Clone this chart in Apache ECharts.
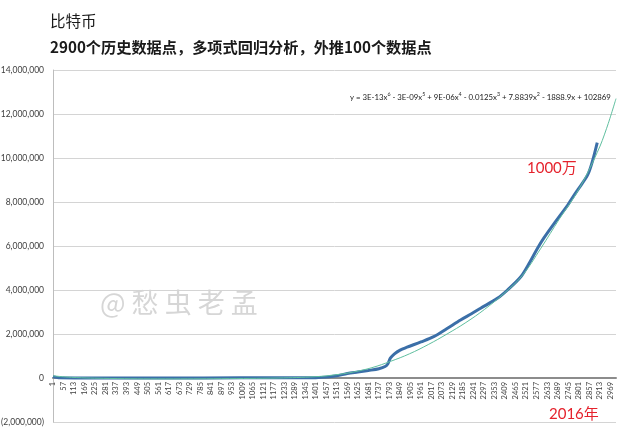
<!DOCTYPE html>
<html><head><meta charset="utf-8">
<script src="https://cdn.jsdelivr.net/npm/echarts@6/dist/echarts.min.js"></script>
<style>html,body{margin:0;padding:0;background:#fff}#c{width:640px;height:436px}</style>
</head><body><div id="c"></div>
<script>
// ---- data ----
const titleMain = '比特币';
const titleSub = '2900个历史数据点，多项式回归分析，外推100个数据点';
const categoryCount = 3000;            // 2900 history + 100 extrapolated
const yTicks = [-2000000, 0, 2000000, 4000000, 6000000, 8000000, 10000000, 12000000, 14000000];

// historical series (sampled points: category index, value)
const priceIdx = [1, 30, 200, 600, 1000, 1300, 1400, 1457, 1513, 1569, 1625, 1681, 1737, 1770, 1785, 1798, 1820, 1850, 1887, 1961, 2029, 2100, 2172, 2230, 2279, 2368, 2422, 2493, 2540, 2582, 2617, 2671, 2743, 2760, 2796, 2849, 2876, 2900];
const priceVal = [60000, 10000, 5000, 5000, 6000, 9000, 15000, 40000, 100000, 200000, 270000, 340000, 420000, 520000, 650000, 900000, 1100000, 1270000, 1400000, 1640000, 1880000, 2250000, 2640000, 2920000, 3170000, 3620000, 4000000, 4600000, 5250000, 5900000, 6380000, 7030000, 7860000, 8090000, 8550000, 9230000, 9900000, 10700000];

const trendIdx = [1, 100, 300, 600, 900, 1200, 1400, 1500, 1600, 1700, 1800, 1900, 2000, 2100, 2200, 2300, 2400, 2500, 2600, 2700, 2800, 2900, 2950, 3000];
const trendVal = [100000, 30000, -20000, -40000, -30000, 0, 60000, 140000, 270000, 470000, 760000, 1100000, 1520000, 2000000, 2520000, 3120000, 3820000, 4650000, 5900000, 7250000, 8550000, 10250000, 11350000, 12700000];

const equationParts = ['y = 3E-13x', '6', ' - 3E-09x', '5', ' + 9E-06x', '4', ' - 0.0125x', '3', ' + 7.8839x', '2', ' - 1888.9x + 102869'];
const noteTop = '1000万';
const noteBottom = '2016年';
const watermark = '@ 愁 虫 老 孟';

// ---- build ----
const categories = [];
for (let i = 1; i <= categoryCount; i++) categories.push(String(i));
const pricePairs = priceIdx.map((x, k) => [String(x), priceVal[k]]);
const trendPairs = trendIdx.map((x, k) => [String(x), trendVal[k]]);

function fmt(v) {
  const s = Math.abs(v).toString().replace(/\B(?=(\d{3})+(?!\d))/g, ',');
  return v < 0 ? '(' + s + ')' : s;
}
let eqText = '';
equationParts.forEach((p, k) => { eqText += (k % 2 === 1) ? '{s|' + p + '}' : '{n|' + p + '}'; });

const FONT = 'Lato, "Noto Sans CJK SC", sans-serif';
const chart = echarts.init(document.getElementById('c'), null, {renderer: 'canvas'});
chart.setOption({
  animation: false,
  backgroundColor: '#fff',
  title: [
    {text: titleMain, left: 45, top: 8, textStyle: {fontFamily: '"Noto Sans CJK SC", sans-serif', fontSize: 15.5, fontWeight: 'normal', color: '#1a1a1a'}},
    {text: titleSub, left: 45, top: 35, textStyle: {fontFamily: '"Noto Sans CJK SC", sans-serif', fontSize: 15.2, fontWeight: 'bold', color: '#1a1a1a'}}
  ],
  grid: {left: 53, right: 24, top: 70, bottom: 14, containLabel: false, outerBoundsMode: 'none'},
  xAxis: {
    type: 'category', data: categories, boundaryGap: false, position: 'bottom', offset: -44,
    axisLine: {onZero: false, lineStyle: {color: '#8c8c8c', width: 2}},
    axisTick: {show: false},
    axisLabel: {interval: 55, rotate: 90, fontSize: 7.5, color: '#404040', fontFamily: FONT, margin: 4},
    splitLine: {show: false}
  },
  yAxis: {
    type: 'value', min: yTicks[0], max: yTicks[yTicks.length - 1], interval: 2000000,
    axisLine: {show: true, onZero: false, lineStyle: {color: '#bdbdbd', width: 1}},
    axisTick: {show: false},
    axisLabel: {formatter: fmt, fontSize: 8.5, color: '#404040', fontFamily: FONT, margin: 9},
    splitLine: {show: true, lineStyle: {color: '#d4d4d4', width: 1}}
  },
  series: [
    {type: 'line', data: pricePairs, showSymbol: false, smooth: 0.3, lineStyle: {color: '#3b6fa8', width: 3}, z: 2},
    {type: 'line', data: trendPairs, showSymbol: false, smooth: 0.4, lineStyle: {color: '#5fbf9f', width: 1}, z: 3}
  ],
  graphic: [
    {type: 'text', left: 350, top: 92, style: {text: eqText, rich: {
      n: {fontSize: 7.8, fontFamily: FONT, fill: '#1a1a1a'},
      s: {fontSize: 5.3, fontFamily: FONT, fill: '#1a1a1a', verticalAlign: 'top', padding: [0, 0, 5, 0]}
    }}},
    {type: 'text', left: 527, top: 161, style: {text: noteTop, fontSize: 15, fontFamily: FONT, fill: '#e5222c'}},
    {type: 'text', left: 549, top: 407, style: {text: noteBottom, fontSize: 15, fontFamily: FONT, fill: '#e5222c'}},
    {type: 'text', left: 100, top: 289, z: -1, style: {text: watermark, fontSize: 27, fontFamily: '"Noto Sans CJK SC", sans-serif', fill: '#d6d6d6'}}
  ]
});
</script></body></html>
